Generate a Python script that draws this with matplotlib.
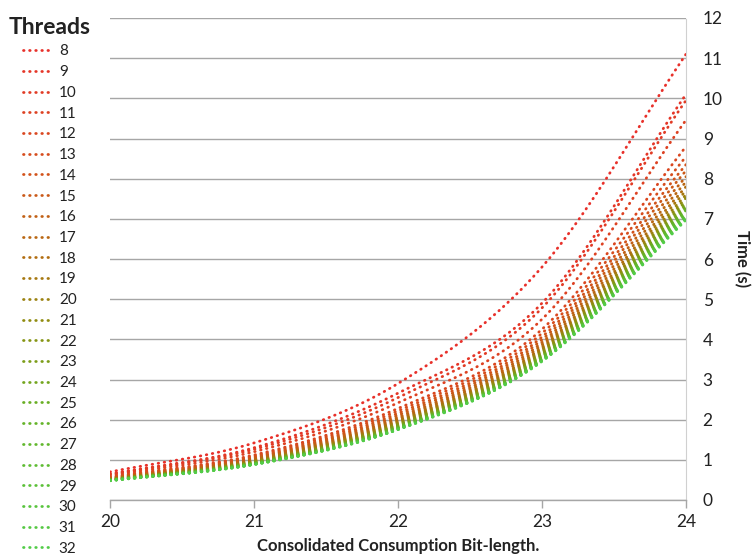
import numpy as np
import matplotlib
matplotlib.use("Agg")
import matplotlib.pyplot as plt
from matplotlib.colors import LinearSegmentedColormap

plt.rcParams['font.family'] = ['Lato', 'DejaVu Sans']

# ---- data ----
bit_lengths = [20, 21, 22, 23, 24]
threads = list(range(8, 33))

# time (s) per thread count at each bit length
t20 = [0.70, 0.65, 0.64, 0.61, 0.58, 0.565, 0.555, 0.545, 0.537, 0.53, 0.524, 0.519, 0.514,
       0.509, 0.505, 0.502, 0.499, 0.496, 0.493, 0.49, 0.488, 0.486, 0.484, 0.482, 0.48]
t21 = [1.42, 1.30, 1.26, 1.20, 1.12, 1.09, 1.06, 1.04, 1.02, 1.00, 0.985, 0.97, 0.96,
       0.95, 0.94, 0.93, 0.92, 0.915, 0.91, 0.90, 0.895, 0.89, 0.887, 0.884, 0.88]
t22 = [2.90, 2.66, 2.55, 2.42, 2.28, 2.22, 2.16, 2.11, 2.06, 2.02, 1.98, 1.95, 1.92,
       1.89, 1.87, 1.85, 1.83, 1.81, 1.80, 1.79, 1.78, 1.77, 1.76, 1.755, 1.75]
t23 = [5.80, 4.90, 4.78, 4.50, 4.25, 4.15, 4.06, 3.99, 3.92, 3.86, 3.80, 3.76, 3.72,
       3.68, 3.64, 3.61, 3.58, 3.56, 3.53, 3.51, 3.49, 3.48, 3.47, 3.46, 3.45]
t24 = [11.10, 10.10, 9.95, 9.46, 8.80, 8.55, 8.35, 8.20, 8.05, 7.92, 7.80, 7.70, 7.60,
       7.52, 7.45, 7.38, 7.32, 7.26, 7.21, 7.16, 7.11, 7.07, 7.03, 7.00, 6.97]

y_ticks = list(range(0, 13))


def smooth(xs, ys, n=40):
    """Catmull-Rom curve through the points (Excel 'smoothed line' look)."""
    xs = np.asarray(xs, float)
    ys = np.asarray(ys, float)
    px = np.concatenate([[2 * xs[0] - xs[1]], xs, [2 * xs[-1] - xs[-2]]])
    py = np.concatenate([[2 * ys[0] - ys[1]], ys, [2 * ys[-1] - ys[-2]]])
    ox, oy = [], []
    t = np.linspace(0, 1, n, endpoint=False)
    for i in range(1, len(px) - 2):
        for p, o in ((px, ox), (py, oy)):
            p0, p1, p2, p3 = p[i - 1], p[i], p[i + 1], p[i + 2]
            o.extend(0.5 * ((2 * p1) + (-p0 + p2) * t +
                            (2 * p0 - 5 * p1 + 4 * p2 - p3) * t ** 2 +
                            (-p0 + 3 * p1 - 3 * p2 + p3) * t ** 3))
    ox.append(xs[-1])
    oy.append(ys[-1])
    return np.array(ox), np.array(oy)


cmap = LinearSegmentedColormap.from_list(
    "rg", [(0.0, "#E8302A"), (0.25, "#D2521A"), (0.42, "#B06E10"),
           (0.55, "#8E8E10"), (0.72, "#66B024"), (1.0, "#52CC48")])

fig = plt.figure(figsize=(7.53, 5.55), dpi=100)
ax = fig.add_axes([110 / 753, 55 / 555, 576 / 753, 482 / 555])

cols = [t20, t21, t22, t23, t24]
n = len(threads)
handles = []
for i, th in enumerate(threads):
    ys = [c[i] for c in cols]
    sx, sy = smooth(bit_lengths, ys)
    color = cmap(i / (n - 1))
    ln, = ax.plot(sx, sy, color=color, lw=2.0, linestyle=(0, (0.2, 2.0)),
                  dash_capstyle='round', label=str(th), zorder=3)
    handles.append(ln)

ax.set_xlim(20, 24)
ax.set_ylim(0, 12)
ax.set_xticks(bit_lengths)
ax.set_yticks(y_ticks)
ax.yaxis.tick_right()
ax.yaxis.set_label_position('right')
ax.grid(axis='y', color='#A6A6A6', lw=1.0, zorder=0)
for s in ['top', 'left']:
    ax.spines[s].set_visible(False)
ax.spines['right'].set_color('#D0D0D0')
ax.spines['right'].set_linestyle((0, (1, 1)))
ax.spines['right'].set_linewidth(0.8)
ax.spines['bottom'].set_color('#A6A6A6')
ax.spines['bottom'].set_linewidth(1.0)
ax.tick_params(axis='x', colors='#A6A6A6', length=6, width=1.0, labelcolor='#222222',
               labelsize=12.5, pad=4)
ax.tick_params(axis='y', length=0, labelcolor='#222222', labelsize=12.5, pad=12)

ax.set_xlabel("Consolidated Consumption Bit-length.", fontsize=12, fontweight='bold',
              color='#222222', labelpad=6)
ax.set_ylabel("Time (s)", fontsize=12, fontweight='bold', color='#222222',
              rotation=-90, labelpad=20)

leg = fig.legend(handles=handles, loc='upper left', bbox_to_anchor=(-5 / 753, 1.0 - 3 / 555),
                 frameon=False, title="Threads", fontsize=11, handlelength=2.0,
                 handletextpad=0.35, labelspacing=0.44, borderpad=0.35,
                 borderaxespad=0.55,
                 title_fontproperties={'weight': 'bold', 'size': 16.5})
for t in leg.get_texts():
    t.set_color('#222222')
leg.get_title().set_color('#222222')

fig.savefig("out.png", dpi=100)
